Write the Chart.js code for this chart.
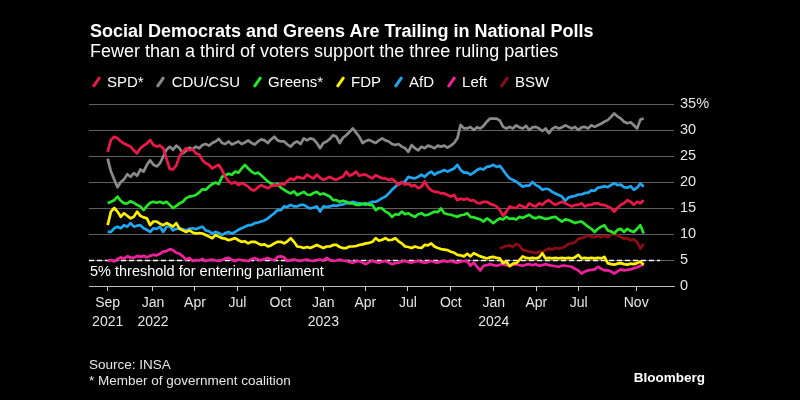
<!DOCTYPE html>
<html>
<head>
<meta charset="utf-8">
<script src="https://cdn.jsdelivr.net/npm/chart.js@4.4.1/dist/chart.umd.min.js"></script>
<style>
html,body{margin:0;padding:0;background:#000;}
#wrap{position:relative;width:800px;height:400px;overflow:hidden;background:#000;font-family:"Liberation Sans",Arial,sans-serif;color:#fff;}
#c{position:absolute;left:0;top:0;}
.t{position:absolute;white-space:nowrap;}
#title{left:90px;top:20px;font-size:18px;line-height:22px;font-weight:bold;}
#sub{left:90px;top:40px;font-size:18px;line-height:22px;}
#legend{position:absolute;left:92px;top:73px;display:flex;font-size:15px;line-height:18px;white-space:nowrap;}
.li{display:flex;align-items:center;margin-right:13px;}
.sw{width:8px;height:18px;position:relative;margin-right:7px;}
.sw i{position:absolute;left:2.5px;top:3px;width:3px;height:12px;transform:rotate(35deg);border-radius:1px;}
#src{left:89px;top:357px;font-size:13.5px;line-height:16px;color:#e6e6e6;}
#note{left:89px;top:373px;font-size:13.5px;line-height:16px;color:#e6e6e6;}
#bb{right:95px;top:370px;font-size:13.5px;line-height:16px;font-weight:bold;}
</style>
</head>
<body>
<div id="wrap">
  <canvas id="c" width="800" height="400"></canvas>
  <div class="t" id="title">Social Democrats and Greens Are Trailing in National Polls</div>
  <div class="t" id="sub">Fewer than a third of voters support the three ruling parties</div>
  <div id="legend"></div>
  <div class="t" id="src">Source: INSA</div>
  <div class="t" id="note">* Member of government coalition</div>
  <div class="t" id="bb">Bloomberg</div>
</div>
<script>
// Days are counted from 2021-09-01. First poll plotted: 2021-09-26, then weekly.
const FIRST_POLL_DAY = 25;
const WEEK = 7;

const seriesNames  = ['SPD*', 'CDU/CSU', 'Greens*', 'FDP', 'AfD', 'Left', 'BSW'];
const seriesColors = ['#ee1848', '#8a8a8a', '#25e62a', '#fff000', '#1ea6f0', '#f0209c', '#8e0c16'];

const spd = [
25.8,28.1,28.7,28.4,27.8,27.4,27.1,26.8,26.1,25.5,
26.5,27,27.4,28.1,27.1,26.8,27,26.5,24.5,22.5,
22.4,23.2,25,25.8,26.5,26.1,26.3,25.5,25.3,24.2,
23.6,23.3,22.6,23,23.3,22.3,21,20.1,19.7,20,
19.4,19.8,19.5,19.1,18.5,18.4,19,19.4,19.1,18.8,
19.2,19.4,19.3,19.7,19.5,20.2,20.7,20.4,21,20.8,
20.7,21.4,21,20.7,21.4,20.8,20.4,20.7,21,20.6,
20.4,20.8,21,22,21.2,21.5,22,21.2,21.4,21.4,
21,20.7,21.3,21,20.7,20.7,20.4,20.6,20.1,19.4,
20,19.5,19.7,19.2,19.4,18.8,19.1,20.1,19,18.4,
18.1,18.1,17.8,17.8,17.5,17.2,17.5,16.5,16.8,16.6,
16.8,16.4,16.5,16,15.9,16.2,16.2,15.8,15.6,15.3,
14.6,13.5,14.3,15.3,15.1,15,15.6,15.3,15,15.9,
15.5,15.3,15.9,15.6,16.2,16.5,16,15.6,15.9,16.2,
15.9,15.6,15.3,15.6,15.6,15.9,15.3,15.6,15.6,15.9,
15.9,15.6,15.6,15.3,15,14.3,15,15.6,15.9,16.5,
16.2,15.6,16.2,15.9,16.5];

const cdu = [
24.5,22,20.5,19,20,20.5,21.5,21,21.7,21.2,
22.4,22,23.3,24.2,23.3,23,23.6,24.9,26.2,26.8,
26.2,27,26.5,25.5,26,26.6,26.3,26.8,26.5,27.1,
27.3,27,27.5,27.8,28.3,27.5,27.3,27.8,27.2,27.5,
27.8,27.3,27.6,28,27.5,27.2,27.8,28.2,28,27.5,
28.2,28.7,28,27.8,27.8,27.2,26.8,27.5,27.8,27.3,
28.4,28,28.4,28.2,27.5,26.5,27.5,27.8,28.3,29,
28.7,27.5,28.5,29,29.6,30.3,29.5,28.7,27.5,27.9,
28.1,27.8,27.5,28,28.4,28,27.8,27.3,27.1,27.3,
26.8,26.5,25.8,27.1,26.5,26.1,26.8,26.5,27,26.8,
26.5,27,26.8,27,26.6,27,27.5,28.4,31,30.3,
30.3,30.6,30,30.5,30.3,30.8,31.6,32.2,32.2,32.2,
31.8,30.6,30.3,30.6,30.3,30.9,30.5,30.3,30.8,30,
30.5,30.6,30.3,29.8,30.3,29.4,30.2,30.6,30.3,30.5,
30.9,30.6,30.3,30.6,30,30.5,30.6,30.3,30.9,30.6,
30.9,31.2,31.6,31.9,32.5,33.2,32.6,32.2,31.6,31.3,
31.5,30.9,30.3,32,32.2];

const greens = [
15.9,16.2,16.5,17.2,16.4,15.9,15.9,16.3,16,15.6,
15.3,14.6,15.4,16,16.2,16,16.2,15.9,16.2,15.6,
15,15.4,15.9,16.2,16.9,17.2,17.3,17.5,18,18.6,
18.5,19.1,19.6,19.9,19.6,21,21.3,21.6,21.4,22,
21.8,22.6,23.3,22.6,22,21.6,21.8,21.3,20.7,20.1,
19.7,19.4,19.6,18.9,18.5,18.1,17.8,18.2,17.5,17.8,
18.1,17.6,17.5,17.9,18.1,17.6,17.8,17.5,17.2,16.5,
16.5,16.2,16.4,16.2,15.9,15.9,15.6,15.6,15.8,15.9,
15.6,15.6,14.6,15,14.9,14.3,14,13.3,13.8,13.7,
14.3,13.8,14,13.6,13.3,13.8,14,13.6,13.7,14,
14.3,14.2,14.9,14,13.8,13.7,13.5,13.3,13.6,13.7,
14,13.3,13.2,13,12.8,12.4,13,12.6,12.1,12.6,
13,12.8,13.3,12.9,13,12.8,13.3,13.1,13.4,13.7,
13.2,13,13.3,13.1,12.9,13,13.2,13.3,12.8,12.4,
12.8,12.7,12.4,12.1,12.3,12.4,11.9,11.4,11,10.4,
11,11.4,11.7,10.7,10.5,10.1,10.8,11,10.4,11,
10.6,10.4,11,11.7,10.1];

const fdp = [
11.7,14.3,15,14.3,13.3,14,13.5,13,13.3,14.3,
13.5,13.2,13,11.7,12.4,12.4,12,11.7,12.1,11.8,
11.4,12.1,11,10.7,10.4,10.7,10.3,10.1,10.2,10.1,
9.8,9.5,9.2,9.8,9.5,9.2,9.1,8.8,9,9.2,
8.8,8.5,8.6,8.2,8.5,8.5,8.2,7.9,8,7.6,
7.8,8.2,8.5,8.5,8.2,8.6,9.2,8.5,7.6,7.5,
7.3,7.5,7.3,7.6,7.9,7.6,7.3,7.6,7.6,7.9,
7.9,7.5,7.3,7.3,7.6,7.6,7.7,7.9,8,8.2,
8.3,8.5,9.2,8.7,8.9,9.2,8.8,8.9,9.2,8.6,
8.2,7.6,7.5,7.3,7.6,7.4,7.3,7.9,7.8,8.2,
7.6,7.3,7.1,7,6.9,6.6,6.4,6,5.9,5.7,
6.2,5.7,6.3,6,5.7,5.5,5.3,5.5,5.6,5.4,
5.3,4.4,4.7,3.8,4.3,4.4,5,5.7,5.4,5.3,
5.4,5.3,5.5,6.3,5.3,5.4,5.3,5.4,5.3,5.4,
5.3,5.4,5.3,5.5,6,5.3,5.4,5.3,5.4,5.3,
5.4,5.3,5.6,4.4,4.2,4.1,4.3,4.4,4.2,4.1,
4.3,4.2,4.4,4.7,4.1];

const afd = [
10.4,10.4,11.1,11.4,11.1,11.7,11.4,12.1,11.4,11.6,
11.7,11.1,10.8,10.4,11.1,11,11.4,10.4,11.4,11.5,
10.7,11,11.1,10.9,10.7,11,11.1,10.9,11.2,11.4,
10.7,10.5,10.1,10.4,10.2,9.8,10.2,10.4,10.1,10.4,
10.8,11.1,11.4,11.7,11.7,12.1,12.2,12.4,12.6,13,
13.5,14,14.6,14.6,15.3,15.2,15.6,15.3,15.3,15.6,
15.6,15.2,14.9,15.1,15.3,14.3,15.3,15.2,15.3,15.5,
15.4,15.6,15.7,15.9,16,16.2,16,15.9,15.8,15.6,
15.9,16.2,16.2,16.5,16.9,17.2,17.8,18.5,19.1,19.7,
19.8,20.1,21,20.8,20.7,21,21.4,21,21.6,22,
21.4,21.8,22,22.3,22,22.3,22.6,23.3,22.3,21.8,
21.8,21.4,21.8,22.3,22.6,22.4,22.9,23,23.3,22.9,
23.1,22.3,21.4,20.7,20.4,20.1,19.6,19.1,19.3,19.3,
20,19.4,19.1,18.5,18.7,18.6,18.1,17.8,17.5,17.2,
16.4,17,17.2,17.3,17.6,17.6,17.9,17.9,18.4,18.3,
18.9,19,19.2,19,19.4,19.8,19.4,19.5,19,18.9,
19.2,18.5,18.9,19.7,19.1];

const left = [
4.8,5,4.7,5.2,5.5,5.3,5.7,5.5,5.4,5.8,
5.6,5.8,5.5,5.8,6,5.9,6.2,6.6,6.7,7.1,
6.9,6.4,6.2,5.7,5.1,5.4,4.8,5,4.9,5.2,
4.8,5,5.1,4.9,4.8,5,5.3,5.4,5,4.8,
5.1,5,4.9,4.8,5.2,5.4,5.1,5,5.2,5.4,
5.1,5,5.6,5.7,5.5,4.8,5,5.1,4.9,4.8,
5,5.1,4.9,4.8,5,5.1,4.9,5.4,5,4.8,
4.9,5.1,4.9,4.8,4.6,4.5,4.7,4.8,4.5,4.2,
4.6,4.8,4.6,4.5,4.7,4.8,4.5,4.2,4.4,4.5,
4.7,4.8,4.6,4.5,4.7,4.8,4.6,4.5,4.6,4.8,
4.6,4.5,4.7,4.8,4.7,4.8,4.6,4.5,4.7,4.8,
4.8,3.9,4.5,3.7,3,3.9,4,4.2,4,3.9,
4.1,4.2,4,3.9,4.1,4.2,4,3.9,4.1,4.2,
4,4.2,3.9,4,4.2,4,3.9,3.8,3.7,3.9,
3.9,3.8,3.7,3.3,3,2.4,2.8,3,3.1,3.2,
3.7,3.3,3,3,2.8,2.4,2.8,3.2,3,3.1,
3.2,3.4,3.6,3.9,4.2];

// BSW polled from week 120 (mid-January 2024) onwards
const BSW_FIRST_WEEK = 120;
const bsw = [
7.2,7.5,7.7,7.8,7.5,8.1,7.8,6.9,6.8,6.6,
6.5,6.3,6.6,6.5,6.9,7.2,7,7.3,7.2,7.3,
7.6,8.1,8.2,8.4,9.1,9.2,9.4,9.7,9.5,9.4,
9.6,9.4,9.7,9.4,9.9,10,9.7,9.4,9.1,9.2,
8.8,9,8.4,7.2,8.1];

// x-axis ticks (days since 2021-09-01)
const tickDays   = [25, 122, 212, 303, 395, 487, 577, 668, 760, 852, 943, 1034, 1157];
const tickMonths = ['Sep','Jan','Apr','Jul','Oct','Jan','Apr','Jul','Oct','Jan','Apr','Jul','Nov'];
const tickYears  = ['2021','2022','','','','2023','','','','2024','','',''];
const X_MIN = -15, X_MAX = 1238;

const THRESHOLD = 5;
const THRESHOLD_LABEL = '5% threshold for entering parliament';

const FONT = '"Liberation Sans", Arial, sans-serif';
Chart.defaults.font.family = FONT;
Chart.defaults.color = '#e6e6e6';

function toPoints(values, firstWeek) {
  return values.map((v, j) => ({ x: FIRST_POLL_DAY + WEEK * (firstWeek + j), y: v }));
}

const allValues = [spd, cdu, greens, fdp, afd, left, bsw];
const firstWeeks = [0, 0, 0, 0, 0, 0, BSW_FIRST_WEEK];

const datasets = allValues.map((vals, k) => ({
  label: seriesNames[k],
  data: toPoints(vals, firstWeeks[k]),
  borderColor: seriesColors[k],
  backgroundColor: seriesColors[k],
  borderWidth: 2.7,
  pointRadius: 0,
  tension: 0,
  fill: false,
  borderJoinStyle: 'round'
}));

// HTML legend
const lg = document.getElementById('legend');
seriesNames.forEach((n, k) => {
  const d = document.createElement('div');
  d.className = 'li';
  d.innerHTML = '<span class="sw"><i style="background:' + seriesColors[k] + '"></i></span><span>' + n + '</span>';
  lg.appendChild(d);
});

const thresholdPlugin = {
  id: 'threshold',
  beforeDatasetsDraw(chart) {
    const { ctx, chartArea: a, scales: { y } } = chart;
    const py = Math.round(y.getPixelForValue(THRESHOLD)) + 0.5;
    ctx.save();
    ctx.strokeStyle = '#ffffff';
    ctx.lineWidth = 1.5;
    ctx.setLineDash([5, 3]);
    ctx.beginPath();
    ctx.moveTo(a.left, py);
    ctx.lineTo(a.right - 14, py);
    ctx.stroke();
    ctx.setLineDash([]);
    ctx.fillStyle = '#ffffff';
    ctx.font = '14.5px ' + FONT;
    ctx.textBaseline = 'middle';
    ctx.textAlign = 'left';
    ctx.fillText(THRESHOLD_LABEL, a.left + 1, py + 11);
    ctx.restore();
  }
};

new Chart(document.getElementById('c'), {
  type: 'line',
  data: { datasets },
  options: {
    responsive: false,
    animation: false,
    layout: { padding: { left: 89, right: 86, top: 104, bottom: 64 } },
    plugins: { legend: { display: false }, tooltip: { enabled: false }, title: { display: false } },
    scales: {
      x: {
        type: 'linear',
        min: X_MIN,
        max: X_MAX,
        afterBuildTicks: (s) => { s.ticks = tickDays.map(v => ({ value: v })); },
        afterFit: (s) => { s.height = 50; },
        grid: { drawOnChartArea: false, drawTicks: true, tickLength: 5, color: '#cfcfcf', lineWidth: 1 },
        border: { display: true, color: '#bdbdbd', width: 1 },
        ticks: {
          autoSkip: false, maxRotation: 0, minRotation: 0, padding: 3,
          color: '#e6e6e6',
          font: { size: 14, lineHeight: 1.36 },
          callback: (v, i) => tickYears[i] ? [tickMonths[i], tickYears[i]] : tickMonths[i]
        }
      },
      y: {
        position: 'right',
        min: 0,
        max: 35,
        afterFit: (s) => { s.width = 40; },
        grid: { color: '#5f5f5f', drawTicks: false, lineWidth: 1 },
        border: { display: false },
        ticks: {
          stepSize: 5, padding: 6, color: '#e6e6e6',
          font: { size: 14.5 },
          callback: (v) => v === 35 ? '35%' : String(v)
        }
      }
    }
  },
  plugins: [thresholdPlugin]
});
</script>
</body>
</html>
